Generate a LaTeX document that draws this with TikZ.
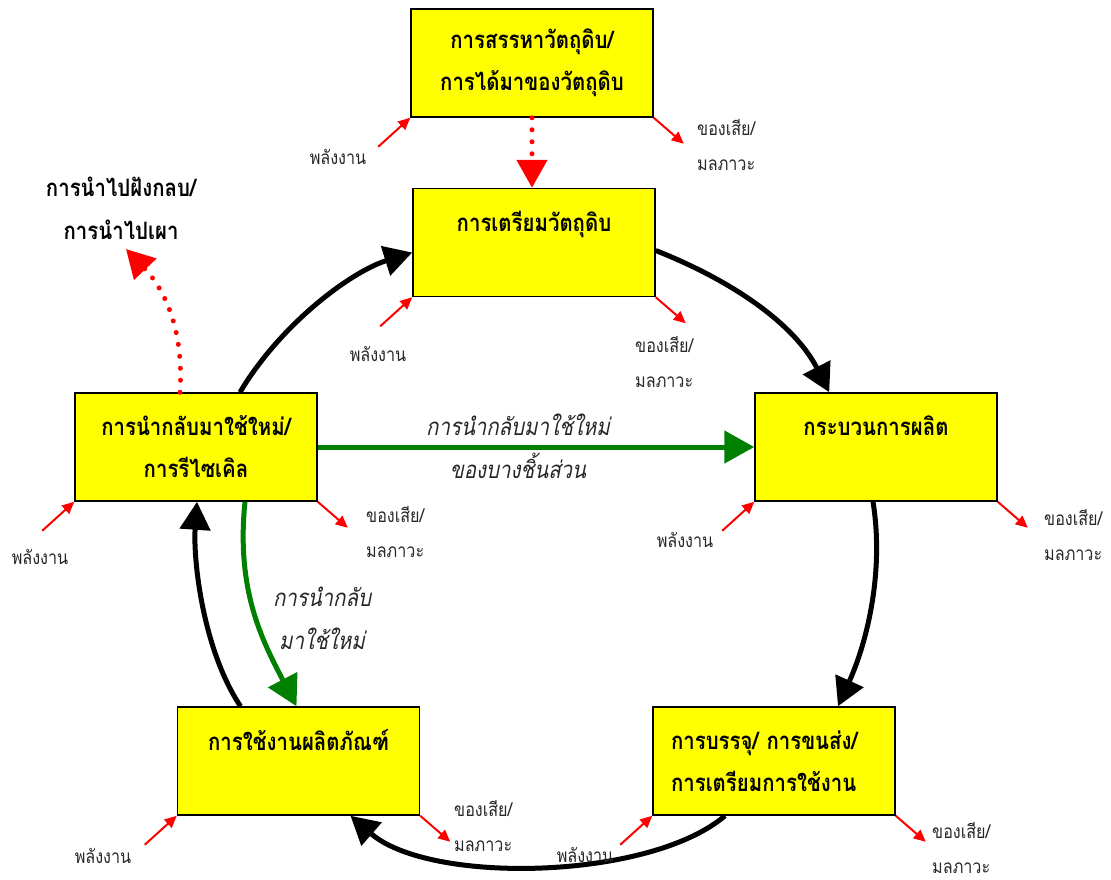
\documentclass[tikz,border=0pt]{standalone}
\usepackage{fontspec}
\newfontfamily\thai[Script=Thai,FakeStretch=0.85]{Loma}
\newfontfamily\thaisl[Script=Thai,FakeStretch=0.85,FakeSlant=0.2]{Loma}
\usetikzlibrary{arrows.meta,calc}
\definecolor{dkgreen}{RGB}{0,128,0}
\definecolor{labgray}{RGB}{40,40,40}
\definecolor{boxyellow}{RGB}{255,255,0}
\begin{document}
\begin{tikzpicture}[x=1pt,y=-1pt,
  box/.style={draw=black, line width=1.5pt, fill=boxyellow, minimum width=242pt, minimum height=108pt,
    inner sep=0pt, font=\thai\bfseries\fontsize{24}{42}\selectfont, align=center, text=black},
  cyc/.style={draw=black, line width=5pt, -{Triangle[length=28pt,width=30pt]}},
  grn/.style={draw=dkgreen, line width=5pt, -{Triangle[length=30pt,width=32pt]}},
  rdot/.style={draw=red, line width=5pt, line cap=round, dash pattern=on 0pt off 12pt,
    -{Triangle[length=28pt,width=30pt]}},
  sm/.style={draw=red, line width=2pt, -{Triangle[length=12pt,width=11pt]}},
  lab/.style={font=\thai\fontsize{19}{35}\selectfont, text=labgray, align=left, inner sep=0pt},
  itl/.style={font=\thaisl\fontsize{24}{43}\selectfont, text=black!85, align=center, inner sep=0pt},
  ttl/.style={font=\thai\bfseries\fontsize{24}{43}\selectfont, text=black, align=center, inner sep=0pt}
]
\useasboundingbox (0,0) rectangle (1111,879);

% boxes
\node[box] (A) at (532,63) {การสรรหาวัตถุดิบ/\\การได้มาของวัตถุดิบ};
\node[box] (B) at (534,242.5) {การเตรียมวัตถุดิบ\\\mbox{}};
\node[box] (C) at (876,447) {กระบวนการผลิต\\\mbox{}};
\node[box, text width=206pt, align=left] (D) at (774,761) {การบรรจุ/ การขนส่ง/\\การเตรียมการใช้งาน};
\node[box] (E) at (298.5,761) {การใช้งานผลิตภัณฑ์\\\mbox{}};
\node[box] (F) at (196,447) {การนำกลับมาใช้ใหม่/\\การรีไซเคิล};

% title and free labels
\node[ttl] (T) at (121,208) {การนำไปฝังกลบ/\\การนำไปเผา};
\coordinate (dump) at (126,249);
\node[itl] (g1) at (518,446) {การนำกลับมาใช้ใหม่\\ของบางชิ้นส่วน};
\node[itl] (g2) at (322,618) {การนำกลับ\\มาใช้ใหม่};

% main cycle
\draw[cyc] ([yshift=-8pt]B.east) .. controls (735,282) and (795,325) .. ([xshift=75pt]C.north west);
\draw[cyc] ([xshift=-3pt]C.south) .. controls (884,570) and (868,640) .. ([xshift=64pt]D.north);
\draw[cyc] ([xshift=-49pt]D.south) .. controls (650,880) and (430,885) .. ([xshift=52pt]E.south);
\draw[cyc] ([xshift=-58pt]E.north) .. controls (203,650) and (193,560) .. ([xshift=1pt]F.south);
\draw[cyc] ([xshift=44pt]F.north) .. controls (280,325) and (350,272) .. ([yshift=-10pt]B.west);

% green recycling
\draw[grn] (F.east) -- (C.west);
\draw[grn] ([xshift=49pt]F.south) .. controls (236,590) and (262,640) .. ([xshift=-2pt]E.north);

% red dotted
\draw[rdot] (A.south) -- (A.south |- B.north);
\draw[rdot] ([xshift=-16pt]F.north) .. controls (184,330) and (165,290) .. (dump);

% energy inputs and waste outputs
\foreach \n in {A,B,C,D,E,F}{
  \draw[sm] ([shift={(-32,29)}]\n.south west) -- (\n.south west);
  \draw[sm] (\n.south east) -- ([shift={(30,26)}]\n.south east);
}
\node[lab] (eA) at (338,157) {พลังงาน};
\node[lab] (eB) at (378,354) {พลังงาน};
\node[lab] (eC) at (685,540) {พลังงาน};
\node[lab] (eD) at (585,855) {พลังงาน};
\node[lab] (eE) at (103,856) {พลังงาน};
\node[lab] (eF) at (40,557) {พลังงาน};

\node[lab, anchor=west] (wA) at (697,145) {ของเสีย/\\มลภาวะ};
\node[lab, anchor=west] (wB) at (635,362) {ของเสีย/\\มลภาวะ};
\node[lab, anchor=west] (wC) at (1044,535) {ของเสีย/\\มลภาวะ};
\node[lab, anchor=west] (wD) at (932,848) {ของเสีย/\\มลภาวะ};
\node[lab, anchor=west] (wE) at (454,826) {ของเสีย/\\มลภาวะ};
\node[lab, anchor=west] (wF) at (366,532) {ของเสีย/\\มลภาวะ};
\end{tikzpicture}
\end{document}
